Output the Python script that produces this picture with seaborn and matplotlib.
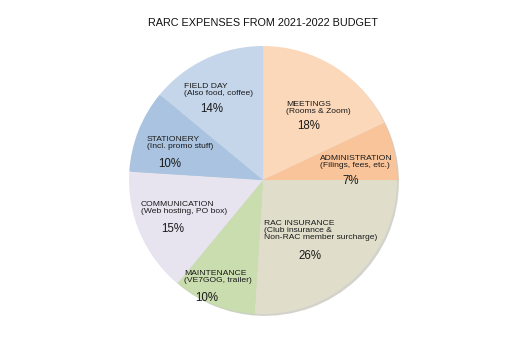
import matplotlib
matplotlib.use("Agg")
import matplotlib.pyplot as plt
import seaborn as sns
import numpy as np

# ---- data ----
title = "RARC EXPENSES FROM 2021-2022 BUDGET"
categories = ["MEETINGS", "ADMINISTRATION", "RAC INSURANCE", "MAINTENANCE",
              "COMMUNICATION", "STATIONERY", "FIELD DAY"]
subtitles = ["(Rooms & Zoom)", "(Filings, fees, etc.)",
             "(Club insurance &\nNon-RAC member surcharge)", "(VE7GOG, trailer)",
             "(Web hosting, PO box)", "(Incl. promo stuff)", "(Also food, coffee)"]
percents = [18, 7, 26, 10, 15, 10, 14]

# ---- style / layout ----
colors = ["#FBD8BA", "#F9C49A", "#E0DECB", "#C9DDAE", "#E7E4F0", "#A9C3E0", "#C5D6EB"]
# label anchors (in pie-radius units): name block top-left, percent center
name_pos = [(0.172, 0.590), (0.425, 0.184), (0.007, -0.301), (-0.590, -0.675),
            (-0.910, -0.160), (-0.866, 0.325), (-0.590, 0.721)]
pct_pos = [(0.343, 0.403), (0.657, -0.004), (0.351, -0.566), (-0.418, -0.878),
           (-0.672, -0.364), (-0.694, 0.121), (-0.381, 0.531)]

sns.set_theme(style="white")
plt.rcParams['font.family'] = ['Liberation Sans', 'DejaVu Sans']

fig = plt.figure(figsize=(5.2, 3.39), dpi=100)
fig.patch.set_facecolor("white")
ax = fig.add_axes([0.2481, 0.0737, 0.5154, 0.7906])
ax.pie(percents, colors=colors, startangle=90, counterclock=False, radius=1,
       wedgeprops=dict(edgecolor="none", linewidth=0),
       shadow=dict(ox=0.01, oy=-0.01, shade=0.25))
ax.set_xlim(-1, 1)
ax.set_ylim(-1, 1)
ax.set_aspect("equal")
ax.axis("off")

for cat, sub, p, (nx, ny), (px, py) in zip(categories, subtitles, percents, name_pos, pct_pos):
    ax.text(nx, ny, cat + "\n" + sub, ha="left", va="top", fontsize=6.1,
            linespacing=0.95, color="#1a1a1a")
    ax.text(px, py, f"{p}%", ha="center", va="center", fontsize=8.3, color="#1a1a1a")

fig.text(0.506, 1 - 23 / 339, title, ha="center", va="center", fontsize=7.8, color="#111111")

fig.savefig("out.png", dpi=100, facecolor="white")
